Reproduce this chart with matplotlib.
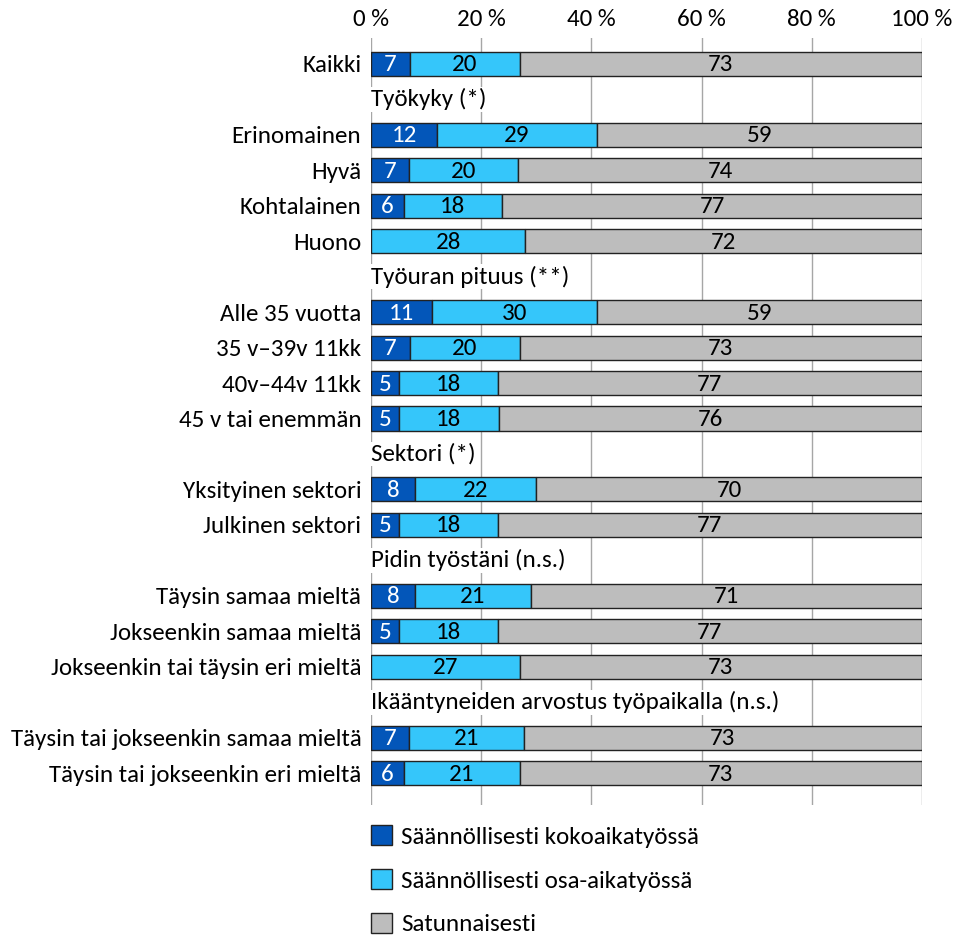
import numpy as np
import matplotlib.pyplot as plt
from matplotlib.patches import Patch

plt.rcParams['font.family'] = ['Carlito', 'Lato', 'DejaVu Sans']

# Rows from top to bottom; headers have no values
labels = ["Kaikki", "Työkyky (*)", "Erinomainen", "Hyvä", "Kohtalainen", "Huono",
          "Työuran pituus (**)", "Alle 35 vuotta", "35 v–39v 11kk", "40v–44v 11kk",
          "45 v tai enemmän", "Sektori (*)", "Yksityinen sektori", "Julkinen sektori",
          "Pidin työstäni (n.s.)", "Täysin samaa mieltä", "Jokseenkin samaa mieltä",
          "Jokseenkin tai täysin eri mieltä",
          "Ikääntyneiden arvostus työpaikalla (n.s.)",
          "Täysin tai jokseenkin samaa mieltä", "Täysin tai jokseenkin eri mieltä"]
full_time = [7, None, 12, 7, 6, 0, None, 11, 7, 5, 5, None, 8, 5, None, 8, 5, 0, None, 7, 6]
part_time = [20, None, 29, 20, 18, 28, None, 30, 20, 18, 18, None, 22, 18, None, 21, 18, 27, None, 21, 21]
occasional = [73, None, 59, 74, 77, 72, None, 59, 73, 77, 76, None, 70, 77, None, 71, 77, 73, None, 73, 73]

series_names = ["Säännöllisesti kokoaikatyössä", "Säännöllisesti osa-aikatyössä", "Satunnaisesti"]
colors = ["#0356B9", "#35C6FA", "#BDBDBD"]
text_colors = ["white", "black", "black"]
fs = 18

fig = plt.figure(figsize=(9.64, 9.35), dpi=100)
ax = fig.add_axes([371 / 964, 1 - 805 / 935, 551 / 964, (805 - 38) / 935])

y = np.arange(len(labels))
series = [full_time, part_time, occasional]

for i, lab in enumerate(labels):
    if full_time[i] is None:
        # group header, drawn over the grid
        ax.text(0, i, lab, ha='left', va='center', fontsize=fs, zorder=3,
                bbox=dict(facecolor='white', edgecolor='none', pad=1))
        continue
    vals = np.array([s[i] for s in series], dtype=float)
    widths = vals / vals.sum() * 100
    left = 0
    for k in range(3):
        if vals[k] > 0:
            ax.barh(i, widths[k], left=left, height=0.68, color=colors[k],
                    edgecolor='#222222', linewidth=1, zorder=2)
            ax.text(left + widths[k] / 2, i + 0.03, f"{int(vals[k])}", ha='center', va='center',
                    fontsize=fs, color=text_colors[k], zorder=4)
        left += widths[k]

ax.set_xlim(0, 100)
ax.set_ylim(20.9, -0.73)
ax.set_xticks(np.arange(0, 101, 20))
ax.set_xticklabels([f"{v} %" for v in range(0, 101, 20)], fontsize=fs)
ax.xaxis.tick_top()
ax.tick_params(axis='x', length=0, pad=6)
ax.set_yticks(y)
ax.set_yticklabels(["" if full_time[i] is None else lab for i, lab in enumerate(labels)],
                   fontsize=fs)
ax.tick_params(axis='y', length=0, pad=7)
ax.grid(axis='x', color='#A6A6A6', linewidth=1, zorder=0)
ax.set_axisbelow(True)
for sp in ax.spines.values():
    sp.set_visible(False)

handles = [Patch(facecolor=c, edgecolor='#222222', linewidth=1) for c in colors]
fig.legend(handles, series_names, loc='upper left', bbox_to_anchor=(361 / 964, 1 - 815 / 935),
           frameon=False, fontsize=fs, handlelength=0.85, handleheight=0.85,
           handletextpad=0.35, labelspacing=0.85, borderaxespad=0)

fig.savefig("out.png", dpi=100)
